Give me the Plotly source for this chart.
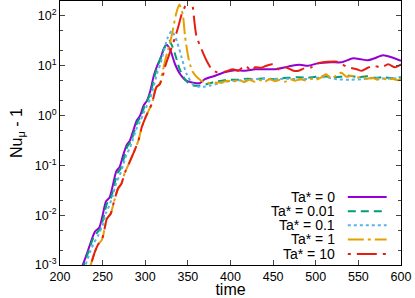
import numpy as np
import plotly.graph_objects as go

# ---------------- data (log10 of Nu_mu - 1) ----------------
t_ta0 = [224, 226.6, 232, 237, 241, 246, 250, 254, 258, 262, 266, 270, 274, 278, 282, 286, 290, 294,
         298, 302, 306, 310, 314, 318, 322, 325, 329, 335, 341, 348, 356, 364, 370, 382, 393, 405,
         417, 429, 440, 452, 464, 472, 481, 491, 503, 518, 530, 544, 553, 561, 569, 579, 589, 600]
lg_ta0 = [-3.1, -3.0, -2.75, -2.5, -2.33, -2.25, -2.0, -1.72, -1.65, -1.4, -1.12, -1.03, -0.8, -0.6,
          -0.5, -0.3, -0.1, 0.0, 0.2, 0.3, 0.5, 0.8, 1.0, 1.15, 1.35, 1.42, 1.33, 1.03, 0.83, 0.7,
          0.66, 0.65, 0.73, 0.8, 0.87, 0.91, 0.9, 0.93, 0.93, 0.93, 0.97, 1.0, 1.02, 1.0, 1.05, 1.07,
          1.07, 1.15, 1.13, 1.11, 1.15, 1.21, 1.17, 1.1]

t_ta001 = [226, 228, 233, 238, 242, 247, 251, 255, 259, 263, 267, 271, 275, 279, 283, 287, 291, 295,
           299, 303, 307, 311, 315, 319, 323, 328, 331, 335, 340, 345, 352, 358, 364, 372, 380, 390,
           398, 410, 420, 430, 440, 450, 460, 470, 480, 490, 500, 510, 520, 530, 540, 550, 560, 570,
           580, 590, 600]
lg_ta001 = [-3.1, -3.0, -2.75, -2.5, -2.38, -2.28, -2.05, -1.77, -1.68, -1.45, -1.17, -1.07, -0.85,
            -0.62, -0.52, -0.33, -0.12, -0.02, 0.18, 0.32, 0.5, 0.8, 1.02, 1.2, 1.38, 1.5, 1.42, 1.23,
            0.95, 0.77, 0.63, 0.6, 0.6, 0.63, 0.67, 0.7, 0.72, 0.72, 0.74, 0.73, 0.75, 0.73, 0.75,
            0.76, 0.77, 0.76, 0.78, 0.79, 0.77, 0.78, 0.8, 0.77, 0.79, 0.76, 0.77, 0.75, 0.77]

t_ta01 = [228, 230, 235, 240, 245, 250, 254, 258, 262, 266, 270, 274, 278, 282, 286, 290, 294, 298,
          302, 306, 310, 314, 318, 322, 326, 331, 334, 337, 342.6, 348.6, 356, 362, 368, 376, 385,
          395, 405, 420, 435, 450, 465, 480, 495, 510, 525, 540, 555, 570, 585, 600]
lg_ta01 = [-3.1, -3.0, -2.75, -2.55, -2.4, -2.2, -1.95, -1.8, -1.6, -1.35, -1.2, -1.0, -0.78, -0.65,
           -0.45, -0.25, -0.12, 0.05, 0.2, 0.35, 0.6, 0.85, 1.05, 1.3, 1.55, 1.7, 1.62, 1.5, 1.17,
           0.83, 0.63, 0.58, 0.58, 0.6, 0.64, 0.68, 0.7, 0.72, 0.74, 0.73, 0.74, 0.73, 0.74, 0.77,
           0.73, 0.72, 0.73, 0.75, 0.74, 0.76]

t_ta1 = [234, 236, 241, 245, 249, 252, 255, 259.5, 263, 268, 272, 276, 282, 288, 292, 296, 300, 304,
         308, 313, 317, 320, 324, 328, 331, 336, 340, 344, 346.6, 350.5, 353, 356, 362, 368, 376,
         383, 390, 397, 403, 410, 416, 422, 428, 433, 440, 446, 452, 458, 464, 470, 476, 482, 488,
         494, 500, 506, 512, 518, 524, 530, 536, 542, 548, 554, 560, 566, 572, 578, 584, 590, 596, 600]
lg_ta1 = [-3.1, -3.0, -2.73, -2.58, -2.5, -2.3, -2.07, -1.97, -1.75, -1.47, -1.37, -1.15, -0.92,
          -0.68, -0.5, -0.23, -0.05, 0.1, 0.25, 0.57, 0.63, 0.85, 1.15, 1.4, 1.6, 2.03, 2.23, 2.03,
          1.6, 1.17, 1.0, 0.87, 0.75, 0.68, 0.65, 0.66, 0.67, 0.7, 0.68, 0.72, 0.67, 0.72, 0.68,
          0.72, 0.68, 0.73, 0.69, 0.72, 0.68, 0.73, 0.7, 0.73, 0.71, 0.74, 0.72, 0.76, 0.83, 0.75,
          0.8, 0.86, 0.78, 0.8, 0.76, 0.78, 0.74, 0.76, 0.72, 0.75, 0.72, 0.74, 0.71, 0.73]

t_ta10 = [234, 236, 241, 245, 249, 252, 255, 259.5, 263, 268, 272, 276, 282, 288, 292, 296, 300, 304,
          308, 313, 317, 320, 323, 329, 335, 339, 343, 347, 350.5, 353, 356, 360, 366, 372, 378, 384,
          393, 403, 409, 417, 425, 429, 436, 442, 450, 456, 464, 474, 480, 487, 495, 503, 514, 526,
          532, 538, 548, 554, 560, 567, 577, 585, 593, 600]
lg_ta10 = [-3.1, -3.0, -2.73, -2.58, -2.5, -2.3, -2.07, -1.97, -1.75, -1.47, -1.37, -1.15, -0.92,
           -0.68, -0.5, -0.23, -0.05, 0.1, 0.25, 0.57, 0.63, 0.75, 0.97, 1.27, 1.57, 1.8, 2.05, 2.2,
           2.3, 2.5, 2.15, 1.6, 1.33, 1.1, 0.93, 0.87, 0.88, 0.93, 0.9, 1.0, 0.9, 0.97, 0.96, 1.0,
           1.03, 0.93, 0.97, 0.9, 0.9, 0.95, 0.97, 1.05, 1.08, 1.08, 1.02, 0.97, 0.93, 0.9, 0.95,
           1.0, 0.97, 1.03, 0.97, 1.03]

labels = ["Ta* = 0", "Ta* = 0.01", "Ta* = 0.1", "Ta* = 1", "Ta* = 10"]
x_ticks = [200, 250, 300, 350, 400, 450, 500, 550, 600]
y_ticks = [1e-3, 1e-2, 1e-1, 1e0, 1e1, 1e2]
y_tick_text = ["10<sup>-3</sup>", "10<sup>-2</sup>", "10<sup>-1</sup>", "10<sup>0</sup>",
               "10<sup>1</sup>", "10<sup>2</sup>"]

# ---------------- styles ----------------
colors = ["#9400D3", "#009E73", "#56B4E9", "#E69F00", "#E51E10"]
dashes = ["solid", "8px,5px", "3px,3px", "16px,4px,3px,4px", "3px,6px,20px,6px"]

series = [(t_ta0, lg_ta0), (t_ta001, lg_ta001), (t_ta01, lg_ta01), (t_ta1, lg_ta1), (t_ta10, lg_ta10)]

fig = go.Figure()
for (tt, lg), lab, c, d in zip(series, labels, colors, dashes):
    fig.add_trace(go.Scatter(
        x=tt, y=10 ** np.array(lg), mode="lines", name=lab,
        line=dict(color=c, width=2, dash=d, shape="spline", smoothing=0.7),
        showlegend=False,
    ))

font_family = "Liberation Sans, Arial, sans-serif"

# custom legend: right-aligned text with line sample on the right
leg_y = [0.258, 0.204, 0.151, 0.097, 0.042]
for lab, c, d, yy in zip(labels, colors, dashes, leg_y):
    fig.add_annotation(x=0.811, y=yy, xref="paper", yref="paper", text=lab, showarrow=False,
                       xanchor="right", yanchor="middle",
                       font=dict(size=14, color="black", family=font_family))
    fig.add_shape(type="line", xref="paper", yref="paper", x0=0.844, x1=0.958, y0=yy, y1=yy,
                  line=dict(color=c, width=2, dash=d))

minor_vals = []
for dec in [1e-3, 1e-2, 1e-1, 1e0, 1e1, 1e2]:
    minor_vals += [2 * dec, 5 * dec]

fig.update_layout(
    width=415, height=298,
    margin=dict(l=60, r=14, t=1, b=33),
    paper_bgcolor="white", plot_bgcolor="white",
    font=dict(family=font_family, size=12, color="black"),
    xaxis=dict(
        range=[200, 600], tickvals=x_ticks, ticks="inside", ticklen=5, tickwidth=1,
        showline=True, linecolor="black", linewidth=1, mirror="ticks",
        showgrid=False, zeroline=False,
        title=dict(text="time", font=dict(size=16), standoff=2),
        tickfont=dict(size=12.5),
    ),
    yaxis=dict(
        type="log", range=[-3, 2.3], tickvals=y_ticks, ticktext=y_tick_text,
        ticks="inside", ticklen=5, tickwidth=1,
        minor=dict(tickvals=minor_vals, ticks="inside", ticklen=3, showgrid=False),
        showline=True, linecolor="black", linewidth=1, mirror="ticks",
        showgrid=False, zeroline=False,
        title=dict(text="Nu<sub>μ</sub> - 1", font=dict(size=16), standoff=8),
        tickfont=dict(size=12.5),
    ),
)

fig.write_html("out.html",
               config={"displayModeBar": False},
               post_script="document.body.style.margin='0';document.body.style.overflow='hidden';")
